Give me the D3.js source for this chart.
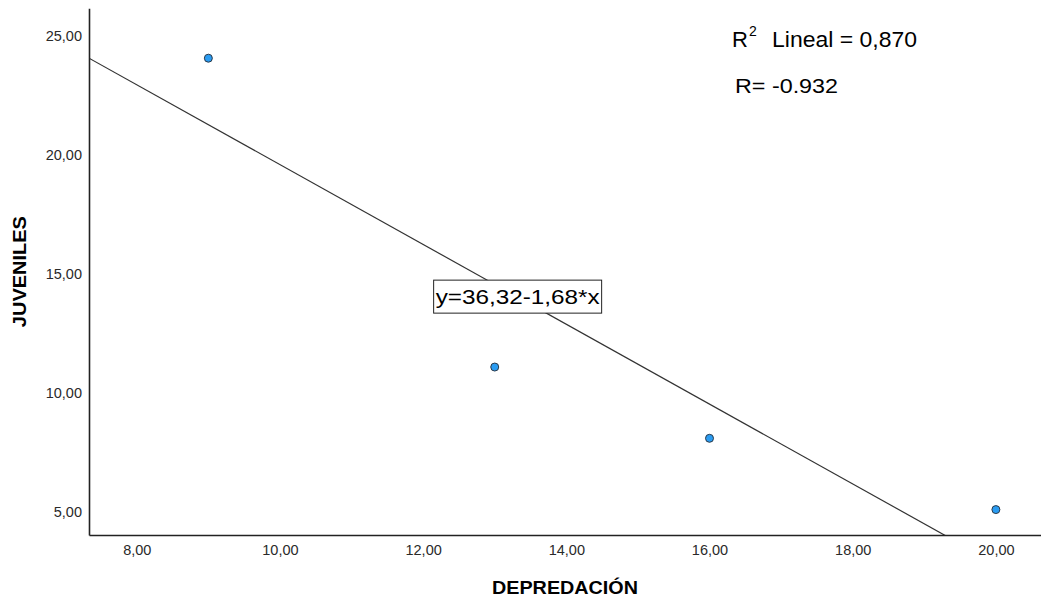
<!DOCTYPE html>
<html>
<head>
<meta charset="utf-8">
<script src="https://cdn.jsdelivr.net/npm/d3@7"></script>
<style>
    html, body { margin: 0; padding: 0; background: #fff; }
    svg { display: block; font-family: "Liberation Sans", Arial, sans-serif; }
</style>
</head>
<body>
<div id="chart"></div>
<script>
// data
const depredacion = [9, 13, 16, 20];
const juveniles = [24, 11, 8, 5];
const xTicks = [8, 10, 12, 14, 16, 18, 20];
const yTicks = [5, 10, 15, 20, 25];
const fitIntercept = 36.32;
const fitSlope = -1.68;
const xDomain = [7.333, 20.63];
const yDomain = [3.93, 26.1];
const eqLabelAt = 13.32; // x value where the equation box sits on the line

const W = 1041, H = 598;
const margin = { top: 8.3, right: 0, bottom: 63, left: 89 };
const width = W - margin.left - margin.right;
const height = H - margin.top - margin.bottom;

const locale = d3.formatLocale({ decimal: ',', thousands: '.', grouping: [3], currency: ['', ''] });
const fmt = locale.format('.2f');

const svg = d3.select('#chart')
    .append('svg')
    .attr('width', W)
    .attr('height', H);

const g = svg.append('g')
    .attr('transform', 'translate(' + margin.left + ',' + margin.top + ')');

const x = d3.scaleLinear().domain(xDomain).range([0, width]);
const y = d3.scaleLinear().domain(yDomain).range([height, 0]);

g.append('clipPath')
    .attr('id', 'plotclip')
    .append('rect')
    .attr('width', width)
    .attr('height', height);

// regression line
const fitLine = d3.line()
    .x((d) => x(d))
    .y((d) => y(fitIntercept + fitSlope * d));

g.append('path')
    .datum(xDomain)
    .attr('clip-path', 'url(#plotclip)')
    .attr('fill', 'none')
    .attr('stroke', '#333')
    .attr('stroke-width', 1.2)
    .attr('d', fitLine);

// axes
const xAxis = g.append('g')
    .attr('transform', 'translate(0,' + height + ')')
    .call(d3.axisBottom(x).tickValues(xTicks).tickSize(0).tickPadding(10).tickFormat(fmt));

const yAxis = g.append('g')
    .call(d3.axisLeft(y).tickValues(yTicks).tickSize(0).tickPadding(7).tickFormat(fmt));

[xAxis, yAxis].forEach((a) => {
    a.select('.domain').attr('stroke', '#222').attr('stroke-width', 1.6);
    a.selectAll('text')
        .attr('fill', '#2a2a2a')
        .style('font-size', '14.5px')
        .style('font-family', '"Liberation Sans", Arial, sans-serif');
});
yAxis.selectAll('text').attr('dy', '0.45em');

// points
g.selectAll('circle.pt')
    .data(depredacion)
    .enter()
    .append('circle')
    .attr('class', 'pt')
    .attr('cx', (d) => x(d))
    .attr('cy', (d, i) => y(juveniles[i]))
    .attr('r', 4)
    .attr('fill', '#2a9cf2')
    .attr('stroke', '#2b3a4a')
    .attr('stroke-width', 1);

// equation label on the line
const eqX = x(eqLabelAt);
const eqY = y(fitIntercept + fitSlope * eqLabelAt);
const eq = g.append('g').attr('transform', 'translate(' + eqX + ',' + eqY + ')');
eq.append('rect')
    .attr('x', -84)
    .attr('y', -17)
    .attr('width', 168)
    .attr('height', 33)
    .attr('fill', '#fff')
    .attr('stroke', '#222')
    .attr('stroke-width', 1);
eq.append('text')
    .attr('text-anchor', 'middle')
    .attr('y', 7)
    .attr('textLength', 164)
    .attr('lengthAdjust', 'spacingAndGlyphs')
    .style('font-size', '20px')
    .attr('fill', '#000')
    .text('y=36,32-1,68*x');

// R2 and R annotations
svg.append('text')
    .attr('x', 732)
    .attr('y', 47)
    .style('font-size', '22px')
    .attr('fill', '#000')
    .text('R');
svg.append('text')
    .attr('x', 749)
    .attr('y', 36)
    .style('font-size', '14px')
    .attr('fill', '#000')
    .text('2');
svg.append('text')
    .attr('x', 772)
    .attr('y', 47)
    .attr('textLength', 145)
    .attr('lengthAdjust', 'spacingAndGlyphs')
    .style('font-size', '22px')
    .attr('fill', '#000')
    .text('Lineal = 0,870');
svg.append('text')
    .attr('x', 735)
    .attr('y', 93)
    .attr('textLength', 103)
    .attr('lengthAdjust', 'spacingAndGlyphs')
    .style('font-size', '21px')
    .attr('fill', '#000')
    .text('R= -0.932');

// axis titles
svg.append('text')
    .attr('x', margin.left + width / 2)
    .attr('y', 594)
    .attr('text-anchor', 'middle')
    .attr('textLength', 146)
    .attr('lengthAdjust', 'spacingAndGlyphs')
    .style('font-size', '18px')
    .style('font-weight', 'bold')
    .attr('fill', '#000')
    .text('DEPREDACIÓN');

svg.append('text')
    .attr('transform', 'translate(26,' + (margin.top + height / 2) + ') rotate(-90)')
    .attr('text-anchor', 'middle')
    .attr('textLength', 111)
    .attr('lengthAdjust', 'spacingAndGlyphs')
    .style('font-size', '18px')
    .style('font-weight', 'bold')
    .attr('fill', '#000')
    .text('JUVENILES');
</script>
</body>
</html>
